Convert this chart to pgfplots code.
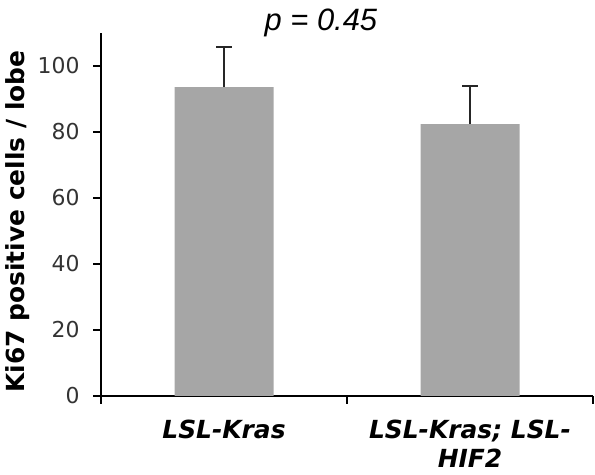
\documentclass[border=0pt]{standalone}
\usepackage{fontspec}
\setmainfont{DejaVu Sans}
\newfontfamily\arialfont{Liberation Sans}
\usepackage{pgfplots}
\pgfplotsset{compat=1.18}
\definecolor{barcol}{HTML}{A6A6A6}
\definecolor{tickcol}{HTML}{333333}
\begin{document}
\begin{tikzpicture}[x=1bp,y=1bp]
\useasboundingbox (0,0) rectangle (595,475);
\begin{axis}[
  at={(101bp,79bp)}, anchor=south west,
  scale only axis, width=492bp, height=363bp,
  xmin=0, xmax=2, ymin=0, ymax=110,
  axis x line*=bottom, axis y line*=left,
  axis line style={-, black, line width=1.3bp},
  tick align=outside, major tick length=8bp,
  tick style={black, line width=1.2bp},
  xtick={0,1,2}, xticklabels={},
  extra x ticks={0.5,1.5},
  extra x tick labels={{LSL-Kras},{LSL-Kras; LSL-\\HIF2}},
  extra x tick style={major tick length=0pt,
    tick label style={align=center, inner sep=0pt, font=\bfseries\itshape\fontsize{25}{29}\selectfont, yshift=-24bp}},
  ytick={0,20,40,60,80,100},
  yticklabel style={font=\fontsize{22}{26}\selectfont, text=tickcol, /pgf/number format/assume math mode=true, xshift=-10bp},
  ylabel={Ki67 positive cells / lobe},
  ylabel style={at={(axis description cs:-0.1545,0.4807)}, anchor=base, rotate=0, font=\bfseries\fontsize{25}{30}\selectfont},
  title={\arialfont\itshape p = 0.45},
  title style={at={(axis description cs:0.447,1)}, anchor=base, yshift=-3bp, font=\fontsize{31}{36}\selectfont, inner sep=0pt},
  ybar, bar width=99bp, bar shift=0pt,
  clip=false,
]
\addplot[fill=barcol, draw=none,
  error bars/.cd, y dir=plus, y explicit,
  error bar style={line width=1.4bp, black!85},
  error mark options={line width=1.4bp, black!85, mark size=8bp, rotate=90}]
  coordinates {(0.5,93.6) +- (0,12.2) (1.5,82.4) +- (0,11.5)};
\end{axis}
\end{tikzpicture}
\end{document}
